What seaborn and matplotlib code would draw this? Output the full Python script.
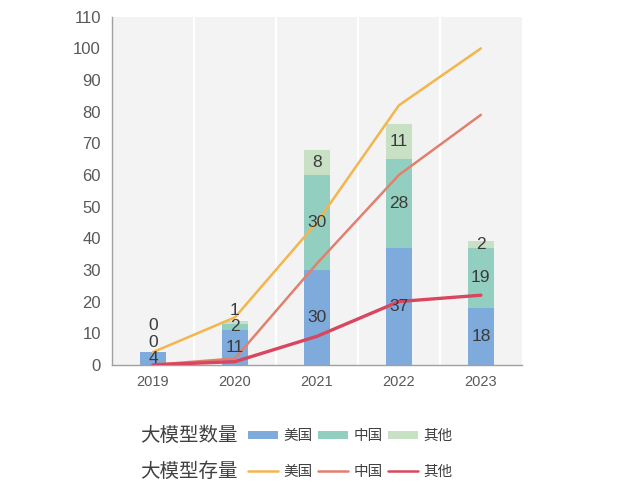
import numpy as np
import pandas as pd
import matplotlib
matplotlib.use("Agg")
import matplotlib.pyplot as plt
import seaborn as sns
from matplotlib.patches import Patch
from matplotlib.lines import Line2D

years = ["2019", "2020", "2021", "2022", "2023"]
series = ["美国", "中国", "其他"]

# 大模型数量 (new models per year)
count_us = [4, 11, 30, 37, 18]
count_cn = [0, 2, 30, 28, 19]
count_other = [0, 1, 8, 11, 2]

# 大模型存量 (cumulative stock)
stock_us = [4, 15, 45, 82, 100]
stock_cn = [0, 2, 32, 60, 79]
stock_other = [0, 1, 9, 20, 22]

bar_colors = ["#7eaadc", "#93cfc0", "#c8e0c3"]
line_colors = ["#f4b54c", "#e2806f", "#d84660"]

sns.set_style("white")
plt.rcParams["font.family"] = ["Liberation Sans", "Noto Sans CJK SC", "DejaVu Sans"]

fig = plt.figure(figsize=(6.22, 4.93), dpi=100)
ax = fig.add_axes([0.180, 0.260, 0.659, 0.706])
ax.set_facecolor("#f3f3f3")

df = pd.DataFrame({"year": years, "us": count_us, "cn": count_cn, "other": count_other})
df["us_cn"] = df["us"] + df["cn"]
df["total"] = df["us_cn"] + df["other"]

# overlay cumulative heights, tallest first
for col, color in zip(["total", "us_cn", "us"], bar_colors[::-1]):
    sns.barplot(data=df, x="year", y=col, color=color, width=0.31,
                saturation=1, edgecolor="none", linewidth=0, ax=ax, zorder=2)

xpos = np.arange(len(years))
for vals, color, lw in zip([stock_us, stock_cn, stock_other], line_colors, [1.8, 1.8, 2.4]):
    sns.lineplot(x=xpos, y=vals, color=color, linewidth=lw, ax=ax, zorder=3)

# segment labels
for i in range(len(years)):
    segs = [count_us[i], count_cn[i], count_other[i]]
    base = 0
    prev = -10
    for v in segs:
        yc = max(base + v / 2, prev + 5.2)
        ax.text(i, yc, str(v), ha="center", va="center", fontsize=12.5,
                color="#3a3a3a", zorder=4)
        prev = yc
        base += v

for b in np.arange(0.5, len(years) - 0.5, 1):
    ax.axvline(b, color="white", lw=1.6, zorder=1)

ax.set_xlim(-0.5, len(years) - 0.5)
ax.set_ylim(0, 110)
ax.set_yticks(range(0, 111, 10))
ax.set_xticks(np.arange(-0.5, len(years), 1), minor=False)
ax.set_xticklabels([])
ax.set_xticks(xpos, minor=True)
ax.set_xticklabels(years, minor=True)
ax.tick_params(axis="x", which="minor", length=0, pad=7, labelsize=10.5, labelcolor="#595959")
ax.tick_params(axis="x", which="major", length=4, color="#a0a0a0", direction="out")
ax.tick_params(axis="y", length=4, color="#a0a0a0", labelsize=12, labelcolor="#595959", pad=4)
ax.set_xlabel("")
ax.set_ylabel("")
for side in ["top", "right"]:
    ax.spines[side].set_visible(False)
for side in ["left", "bottom"]:
    ax.spines[side].set_color("#a0a0a0")
    ax.spines[side].set_linewidth(1)

# legends
fig.text(0.225, 0.116, "大模型数量", fontsize=14, color="#404040", va="center", ha="left")
fig.text(0.225, 0.043, "大模型存量", fontsize=14, color="#404040", va="center", ha="left")

bar_handles = [Patch(facecolor=c, edgecolor="none") for c in bar_colors]
line_handles = [Line2D([0], [0], color=c, lw=1.8) for c in line_colors]
common = dict(ncol=3, frameon=False, fontsize=10.5, handlelength=2.1, handletextpad=0.35,
              columnspacing=0.35, borderpad=0, borderaxespad=0, labelcolor="#404040",
              loc="center left")
fig.legend(bar_handles, series, bbox_to_anchor=(0.398, 0.116), handleheight=0.45, **common)
fig.legend(line_handles, series, bbox_to_anchor=(0.398, 0.043), **common)

fig.savefig("out.png", dpi=100)
